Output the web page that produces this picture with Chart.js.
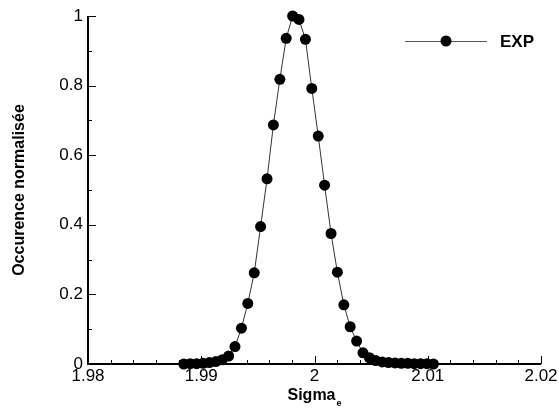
<!DOCTYPE html>
<html>
<head>
<meta charset="utf-8">
<script src="https://cdn.jsdelivr.net/npm/chart.js@4.4.1/dist/chart.umd.min.js"></script>
<style>
  html, body { margin: 0; padding: 0; background: #fff; }
  #wrap { width: 559px; height: 414px; }
</style>
</head>
<body>
<div id="wrap"><canvas id="chart"></canvas></div>
<script>
// measured distribution (normalised occurrence vs sigma_e)
const sigma = [
  1.98846, 1.98903, 1.98959, 1.99016, 1.99072, 1.99129, 1.99185, 1.99242,
  1.99298, 1.99355, 1.99411, 1.99468, 1.99524, 1.99581, 1.99637, 1.99694,
  1.99750, 1.99807, 1.99863, 1.99920, 1.99976, 2.00033, 2.00089, 2.00146,
  2.00202, 2.00259, 2.00315, 2.00372, 2.00428, 2.00485, 2.00541, 2.00598,
  2.00654, 2.00711, 2.00767, 2.00824, 2.00880, 2.00937, 2.00993, 2.01050
];
const occurence = [
  0.000, 0.001, 0.001, 0.002, 0.004, 0.007, 0.012, 0.023,
  0.050, 0.103, 0.174, 0.262, 0.395, 0.532, 0.687, 0.818,
  0.936, 1.000, 0.990, 0.933, 0.792, 0.655, 0.514, 0.375,
  0.264, 0.170, 0.107, 0.066, 0.032, 0.018, 0.010, 0.006,
  0.004, 0.003, 0.002, 0.002, 0.001, 0.001, 0.001, 0.000
];
const seriesName = "EXP";
const xTitle = "Sigma";
const xTitleSub = "e";
const yTitle = "Occurence normalisée";

const FONT = "'Liberation Sans', Arial, sans-serif";

// axis lines with inward major/minor ticks, x title with subscript, legend
const decor = {
  id: "decor",
  beforeDatasetsDraw(chart) {
    const { ctx, chartArea: a, scales: { x, y } } = chart;
    ctx.save();
    ctx.strokeStyle = "#000";
    ctx.lineWidth = 1;
    ctx.beginPath();
    for (let i = 0; i <= 20; i++) {
      const px = Math.round(x.getPixelForValue(1.98 + i * 0.002)) + 0.5;
      const len = i % 5 === 0 ? 8 : 4;
      ctx.moveTo(px, a.bottom);
      ctx.lineTo(px, a.bottom - len);
    }
    for (let i = 0; i <= 10; i++) {
      const py = Math.round(y.getPixelForValue(i * 0.1)) + 0.5;
      const len = i % 2 === 0 ? 8 : 4;
      ctx.moveTo(a.left, py);
      ctx.lineTo(a.left + len, py);
    }
    ctx.stroke();
    ctx.lineWidth = 2;
    ctx.beginPath();
    ctx.moveTo(a.left, a.top);
    ctx.lineTo(a.left, a.bottom);
    ctx.lineTo(a.right, a.bottom);
    ctx.stroke();
    ctx.restore();
  },
  afterDraw(chart) {
    const { ctx, chartArea: a } = chart;
    ctx.save();
    ctx.fillStyle = "#000";
    // x title
    ctx.font = "bold 16px " + FONT;
    const w1 = ctx.measureText(xTitle).width;
    ctx.font = "bold 9px " + FONT;
    const w2 = ctx.measureText(xTitleSub).width;
    const cx = (a.left + a.right) / 2;
    let sx = cx - (w1 + w2 + 1) / 2;
    ctx.textBaseline = "alphabetic";
    ctx.font = "bold 16px " + FONT;
    ctx.fillText(xTitle, sx, 400);
    ctx.font = "bold 9px " + FONT;
    ctx.fillText(xTitleSub, sx + w1 + 1, 406);
    // legend
    const ly = a.top + 25;
    const lx0 = a.right - 136, lx1 = a.right - 54;
    ctx.strokeStyle = "#555";
    ctx.lineWidth = 1;
    ctx.beginPath();
    ctx.moveTo(lx0, ly + 0.5);
    ctx.lineTo(lx1, ly + 0.5);
    ctx.stroke();
    ctx.beginPath();
    ctx.arc((lx0 + lx1) / 2, ly, 5.5, 0, Math.PI * 2);
    ctx.fill();
    ctx.font = "bold 17px " + FONT;
    ctx.textBaseline = "middle";
    ctx.fillText(chart.data.datasets[0].label, a.right - 41, ly + 1);
    ctx.restore();
  }
};

new Chart(document.getElementById("chart"), {
  type: "line",
  data: {
    datasets: [{
      label: seriesName,
      data: sigma.map((s, i) => ({ x: s, y: occurence[i] })),
      borderColor: "#333",
      borderWidth: 1,
      backgroundColor: "#000",
      pointBackgroundColor: "#000",
      pointBorderColor: "#000",
      pointRadius: 5.5,
      pointBorderWidth: 0,
      tension: 0,
      clip: false
    }]
  },
  options: {
    responsive: true,
    maintainAspectRatio: false,
    animation: false,
    events: [],
    layout: { padding: { top: 16, right: 18, left: 0, bottom: 0 } },
    plugins: { legend: { display: false }, tooltip: { enabled: false } },
    scales: {
      x: {
        type: "linear",
        min: 1.98,
        max: 2.02,
        grid: { display: false },
        border: { display: false },
        afterFit: s => { s.height = 50; },
        ticks: {
          stepSize: 0.01,
          padding: -6,
          maxRotation: 0,
          color: "#000",
          font: { family: FONT, size: 17 },
          callback: v => String(+v.toFixed(2))
        }
      },
      y: {
        min: 0,
        max: 1,
        grid: { display: false },
        border: { display: false },
        afterFit: s => { s.width = 88; },
        title: {
          display: true,
          text: yTitle,
          color: "#000",
          font: { family: FONT, size: 16, weight: "bold" },
          padding: { top: 10, bottom: 0 }
        },
        ticks: {
          stepSize: 0.2,
          padding: -3,
          color: "#000",
          font: { family: FONT, size: 17 },
          callback: v => String(+v.toFixed(1))
        }
      }
    }
  },
  plugins: [decor]
});
</script>
</body>
</html>
